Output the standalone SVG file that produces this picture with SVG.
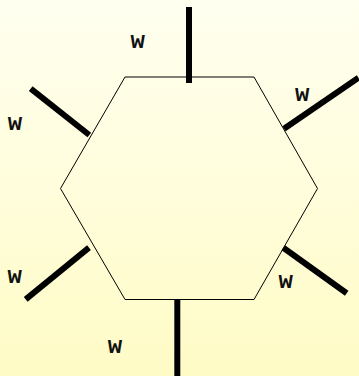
<svg xmlns="http://www.w3.org/2000/svg" width="359" height="376" viewBox="0 0 359 376">
<defs>
<linearGradient id="bg" x1="0" y1="0" x2="0" y2="1">
<stop offset="0" stop-color="#fffff0"/>
<stop offset="1" stop-color="#fffbc6"/>
</linearGradient>
<style>
.hex{fill:none;stroke:#000;stroke-width:1}
.leg{stroke:#000;stroke-width:6;stroke-linecap:butt}
.lbl{font-family:"Liberation Mono","DejaVu Sans Mono",monospace;font-weight:bold;font-size:24px;fill:#111;text-anchor:middle}
</style>
</defs>
<rect x="0" y="0" width="359" height="376" fill="url(#bg)"/>
<g id="hexagon">
<polygon class="hex" points="125,77 254,77 317.5,188.5 254,299.5 125,299.5 60.5,188.5"/>
</g>
<g id="connectors">
<line class="leg" x1="189" y1="7" x2="189" y2="83"/>
<line class="leg" x1="30.7" y1="88.7" x2="89.3" y2="135"/>
<line class="leg" x1="284" y1="128.7" x2="358.5" y2="77.7"/>
<line class="leg" x1="89" y1="247.7" x2="25.7" y2="299.3"/>
<line class="leg" x1="283.3" y1="247.7" x2="346.7" y2="293.3"/>
<line class="leg" x1="177.3" y1="300" x2="177.3" y2="376"/>
</g>
<g id="labels">
<text class="lbl" x="137.7" y="48.3">w</text>
<text class="lbl" x="15" y="130">w</text>
<text class="lbl" x="302.3" y="100.7">w</text>
<text class="lbl" x="14.7" y="282.7">w</text>
<text class="lbl" x="285.7" y="288.3">w</text>
<text class="lbl" x="115" y="352.7">w</text>
</g>
</svg>
